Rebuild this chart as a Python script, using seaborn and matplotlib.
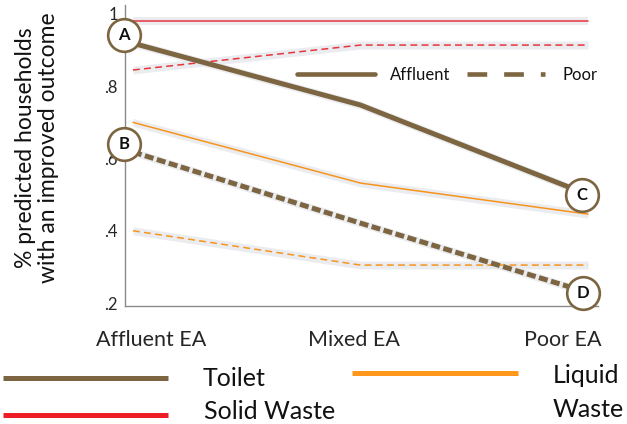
import numpy as np
import pandas as pd
import matplotlib
matplotlib.use("Agg")
import matplotlib.pyplot as plt
from matplotlib.lines import Line2D
from matplotlib.transforms import ScaledTranslation
import seaborn as sns

# ---- data -------------------------------------------------------------
ea_levels = ["Affluent EA", "Mixed EA", "Poor EA"]
toilet_affluent = [0.919, 0.748, 0.500]
toilet_poor = [0.618, 0.421, 0.229]
solid_affluent = [0.980, 0.980, 0.980]
solid_poor = [0.845, 0.914, 0.914]
liquid_affluent = [0.700, 0.532, 0.446]
liquid_poor = [0.400, 0.305, 0.305]
ci_halfwidth = [0.011, 0.011, 0.011]

y_ticks = [0.2, 0.4, 0.6, 0.8, 1.0]
y_tick_labels = [".2", ".4", ".6", ".8", "1"]
outcome_names = ["Toilet", "Solid Waste", "Liquid\nWaste"]
group_names = ["Affluent", "Poor"]
point_labels = ["A", "B", "C", "D"]

BROWN = "#7C6540"
RED = "#E8353B"
RED_KEY = "#EE1C25"
ORANGE = "#F7941D"
ORANGE_KEY = "#FF981A"
BAND = "#e2e5ea"

series = {
    ("Solid Waste", "Affluent"): solid_affluent,
    ("Solid Waste", "Poor"): solid_poor,
    ("Liquid\nWaste", "Affluent"): liquid_affluent,
    ("Liquid\nWaste", "Poor"): liquid_poor,
    ("Toilet", "Affluent"): toilet_affluent,
    ("Toilet", "Poor"): toilet_poor,
}

rows = []
for (outcome, group), vals in series.items():
    for i, (ea, v) in enumerate(zip(ea_levels, vals)):
        rows.append(dict(outcome=outcome, group=group, ea=ea, pos=i,
                         value=v, lo=v - ci_halfwidth[i], hi=v + ci_halfwidth[i]))
df = pd.DataFrame(rows)

outcome_color = {"Toilet": BROWN, "Solid Waste": RED, "Liquid\nWaste": ORANGE}
outcome_width = {"Toilet": 3.6, "Solid Waste": 1.1, "Liquid\nWaste": 1.1}
poor_dash = {"Toilet": (0, (1.8, 0.7)), "Solid Waste": (0, (4.5, 2.8)),
             "Liquid\nWaste": (0, (4.5, 2.8))}

# ---- figure -----------------------------------------------------------
sns.set_theme(style="white")
plt.rcParams["font.family"] = ["Lato", "DejaVu Sans"]
plt.rcParams["text.color"] = "#111111"

W, H = 627, 424
fig = plt.figure(figsize=(W / 100, H / 100), dpi=100)


def fx(px):
    return px / W


def fy(py):
    return 1 - py / H


ax = fig.add_axes([fx(125), fy(306), fx(598) - fx(125), fy(5) - fy(306)])

for (outcome, group), sub in df.groupby(["outcome", "group"], sort=False):
    ax.fill_between(sub["pos"], sub["lo"], sub["hi"], color=BAND,
                    alpha=0.7, lw=0, zorder=1)
    ls = "-" if group == "Affluent" else poor_dash[outcome]
    sns.lineplot(data=sub, x="pos", y="value", ax=ax,
                 color=outcome_color[outcome], lw=outcome_width[outcome],
                 linestyle=ls, legend=False, zorder=3 if outcome == "Toilet" else 2)

ax.set_xlim(-0.035, 2.044)
ax.set_ylim(0.1917, 1.0249)
ax.set_xlabel("")
ax.set_ylabel("")

ax.set_yticks(y_ticks)
ax.set_yticklabels(y_tick_labels, fontsize=12)
ax.tick_params(axis="y", length=0, pad=5)

ax.set_xticks(range(len(ea_levels)))
ax.set_xticklabels(ea_levels, fontsize=15.5)
ax.tick_params(axis="x", length=3, width=0.8, color="#8a8a8a", pad=14)
for lab, dx in zip(ax.get_xticklabels(), [18, -7, -25]):
    lab.set_transform(lab.get_transform() +
                      ScaledTranslation(dx / 100, 0, fig.dpi_scale_trans))

for side in ["top", "right"]:
    ax.spines[side].set_visible(False)
for side in ["left", "bottom"]:
    ax.spines[side].set_color("#8a8a8a")
    ax.spines[side].set_linewidth(1.0)

fig.text(fx(37), fy(148), "% predicted households\nwith an improved outcome",
         rotation=90, ha="center", va="center", fontsize=16.5,
         linespacing=1.12, multialignment="center")

# ---- lettered markers at the toilet line ends ------------------------
anchors = [
    (0, toilet_affluent[0], -9, 8),
    (0, toilet_poor[0], -9, 8),
    (2, toilet_affluent[2], -6, 0),
    (2, toilet_poor[2], -5, 0),
]
for letter, (x, y, dx, dy) in zip(point_labels, anchors):
    tr = ax.transData + ScaledTranslation(dx / 100, dy / 100, fig.dpi_scale_trans)
    ax.plot([x], [y], marker="o", ms=23.5, mfc="white", mec=BROWN, mew=1.9,
            transform=tr, clip_on=False, zorder=6)
    ax.text(x, y, letter, transform=tr, ha="center", va="center",
            fontsize=12, fontweight="bold", zorder=7)

# ---- in-plot key for affluent / poor ---------------------------------
fig.add_artist(Line2D([fx(297), fx(375)], [fy(74), fy(74)],
                      transform=fig.transFigure, color=BROWN, lw=3.3))
fig.text(fx(390), fy(75), group_names[0], ha="left", va="center", fontsize=12)
fig.add_artist(Line2D([fx(467), fx(545)], [fy(74), fy(74)],
                      transform=fig.transFigure, color=BROWN, lw=3.3,
                      linestyle=(0, (4.3, 3.7))))
fig.text(fx(562), fy(75), group_names[1], ha="left", va="center", fontsize=12)

# ---- outcome key below the axes --------------------------------------
key = [
    (outcome_names[0], BROWN, (3, 168, 378), (203, 386)),
    (outcome_names[1], RED_KEY, (3, 168, 415), (204, 419)),
    (outcome_names[2], ORANGE_KEY, (352, 518, 373), (553, 383)),
]
for name, col, (x0, x1, yl), (tx, ty) in key:
    fig.add_artist(Line2D([fx(x0), fx(x1)], [fy(yl), fy(yl)],
                          transform=fig.transFigure, color=col, lw=3.6,
                          solid_capstyle="butt"))
    for k, part in enumerate(name.split("\n")):
        fig.text(fx(tx), fy(ty + 34 * k), part, ha="left", va="baseline",
                 fontsize=18)

fig.savefig("out.png", dpi=100)
